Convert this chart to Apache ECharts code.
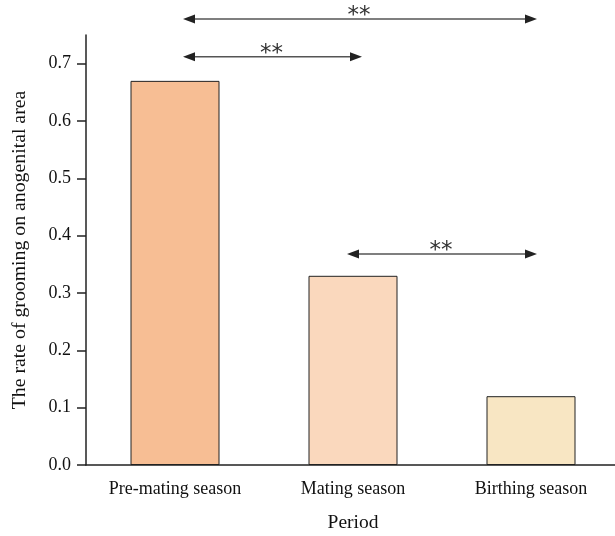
<!DOCTYPE html>
<html>
<head>
<meta charset="utf-8">
<script src="https://cdn.jsdelivr.net/npm/echarts@6/dist/echarts.min.js"></script>
<style>html,body{margin:0;padding:0;background:#fff}#c{width:615px;height:536px}</style>
</head>
<body>
<div id="c"></div>
<script>
var categories = ['Pre-mating season', 'Mating season', 'Birthing season'];
var values = [0.67, 0.33, 0.12];
var barColors = ['#F7BE94', '#FAD8BD', '#F8E6C3'];
var yTicks = [0, 0.1, 0.2, 0.3, 0.4, 0.5, 0.6, 0.7];
// comparisons: [from category index, to category index, bracket level]
var comparisons = [[0, 2, 0.778], [0, 1, 0.712], [1, 2, 0.368]];
var compLabels = ['**', '**', '**'];

var chart = echarts.init(document.getElementById('c'));
var font = 'Liberation Serif, Times New Roman, serif';
chart.setOption({
  animation: false,
  grid: { left: 86, right: -5, top: 35, bottom: 71, containLabel: false, outerBoundsMode: 'none' },
  xAxis: {
    type: 'category',
    data: categories,
    name: 'Period',
    nameLocation: 'middle',
    nameGap: 48,
    nameTextStyle: { fontFamily: font, fontSize: 19.5, color: '#111' },
    axisLine: { lineStyle: { color: '#222', width: 1.5 } },
    axisTick: { alignWithLabel: true, length: 8, lineStyle: { color: '#222', width: 1.5 } },
    axisLabel: { fontFamily: font, fontSize: 18, color: '#111', margin: 15 }
  },
  yAxis: {
    type: 'value',
    min: 0, max: 0.75, interval: 0.1,
    name: 'The rate of grooming on anogenital area',
    nameLocation: 'middle',
    nameGap: 56,
    nameTextStyle: { fontFamily: font, fontSize: 19.8, color: '#111' },
    axisLine: { show: true, lineStyle: { color: '#222', width: 1.5 } },
    axisTick: { show: true, length: 9, customValues: yTicks, lineStyle: { color: '#222', width: 1.5 } },
    axisLabel: { fontFamily: font, fontSize: 18, color: '#111', margin: 15, customValues: yTicks,
      formatter: function (v) { return v.toFixed(1); } },
    splitLine: { show: false }
  },
  series: [{
    type: 'bar',
    barWidth: '50%',
    data: values.map(function (v, i) {
      return { value: v, itemStyle: { color: barColors[i] } };
    }),
    itemStyle: { borderColor: '#222', borderWidth: 1 }
  }, {
    type: 'custom',
    clip: false,
    encode: { x: [0, 1], y: 2 },
    data: comparisons,
    renderItem: function (params, api) {
      var a = api.coord([api.value(0), api.value(2)]);
      var b = api.coord([api.value(1), api.value(2)]);
      var i = params.dataIndex;
      var x1 = a[0] + (i === 2 ? -6 : 8);
      var x2 = b[0] + (i === 1 ? 9 : 6);
      var y = a[1];
      var hl = 12, hh = 4.5;
      var col = '#222';
      return {
        type: 'group',
        children: [
          { type: 'line', shape: { x1: x1 + hl - 1, y1: y, x2: x2 - hl + 1, y2: y }, style: { stroke: '#555', lineWidth: 1.6 } },
          { type: 'polygon', shape: { points: [[x1, y], [x1 + hl, y - hh], [x1 + hl, y + hh]] }, style: { fill: col } },
          { type: 'polygon', shape: { points: [[x2, y], [x2 - hl, y - hh], [x2 - hl, y + hh]] }, style: { fill: col } },
          { type: 'text', x: (x1 + x2) / 2 - 1, y: y - 3, style: { text: compLabels[i], fill: '#333', fontSize: 23, fontFamily: 'DejaVu Sans', align: 'center', verticalAlign: 'middle' } }
        ]
      };
    }
  }]
});
</script>
</body>
</html>
